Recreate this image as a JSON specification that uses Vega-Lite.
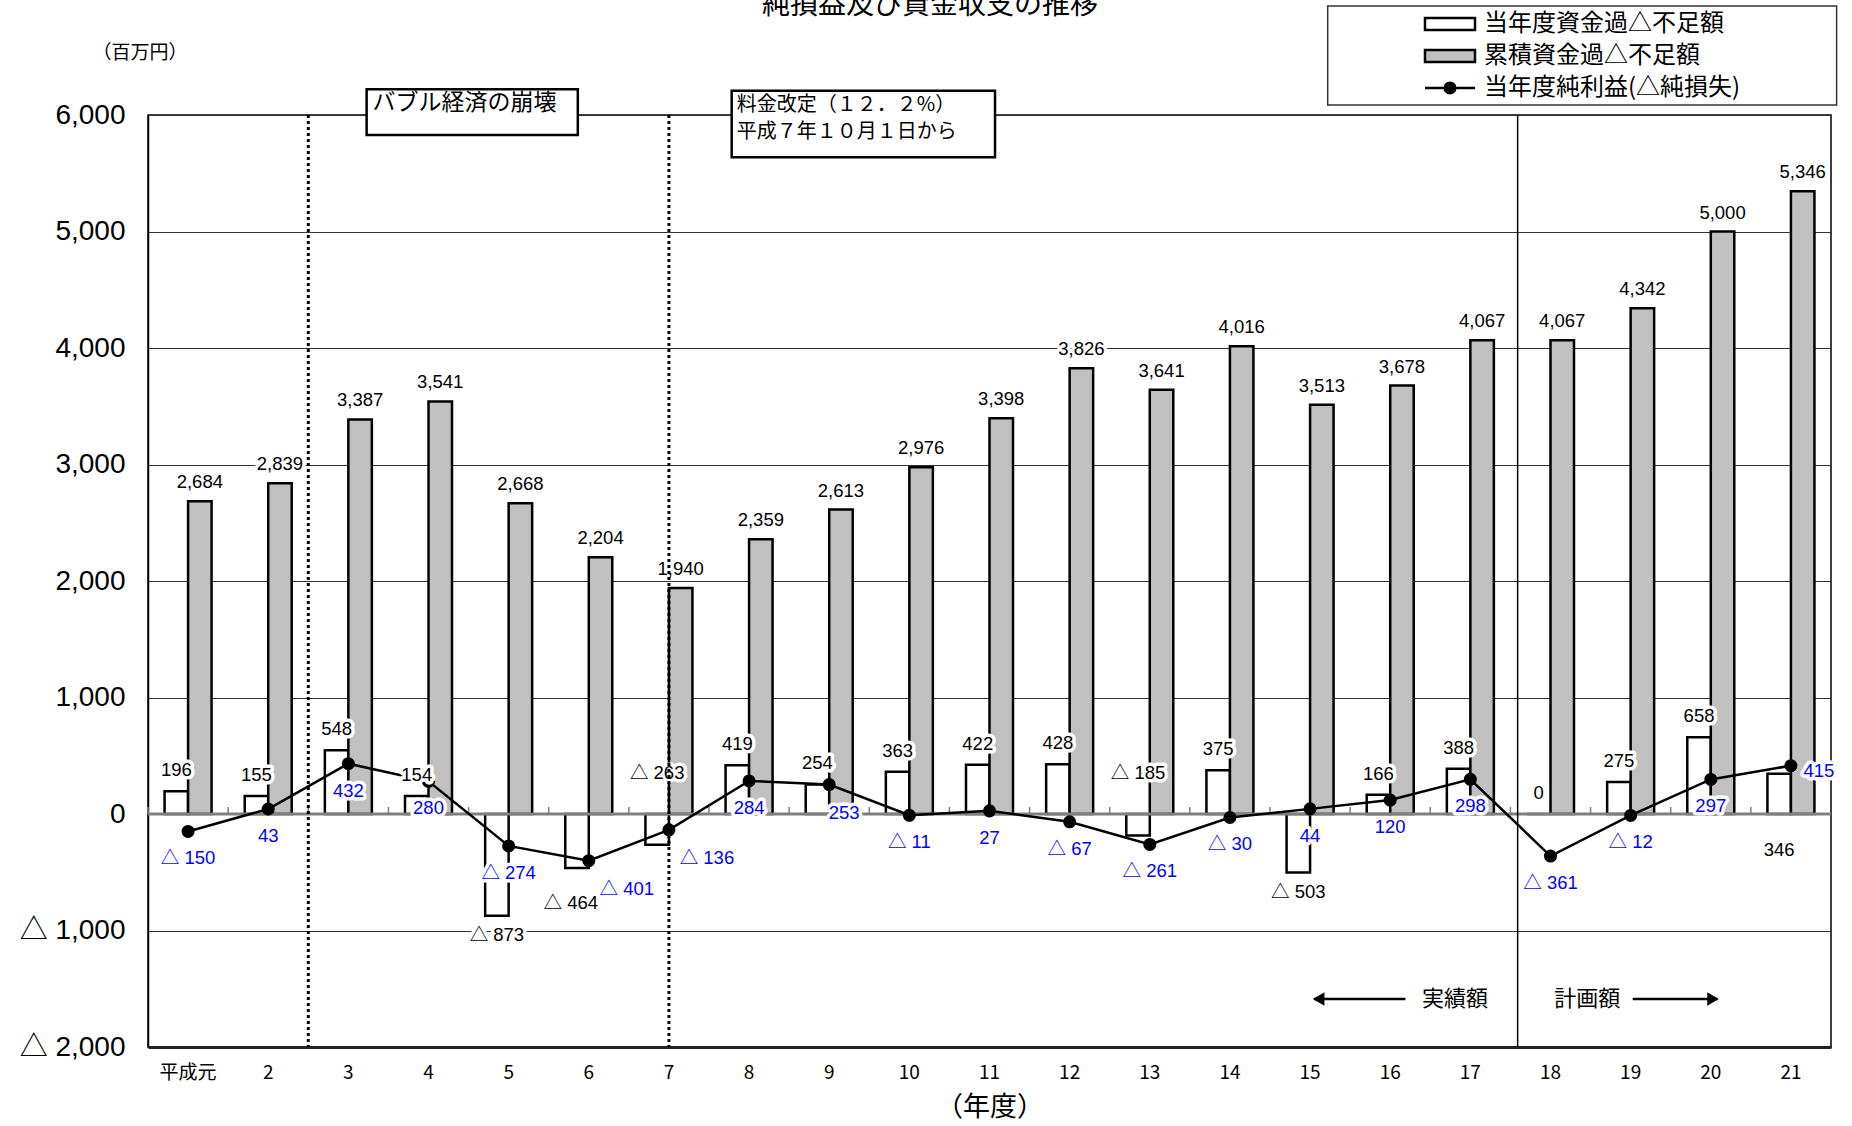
{
  "$schema": "https://vega.github.io/schema/vega-lite/v6.json",
  "width": 1683,
  "height": 932,
  "autosize": {"type": "none"},
  "padding": {"left": 148, "top": 115, "right": 21, "bottom": 79},
  "background": "white",
  "config": {
    "view": {"stroke": "black", "strokeWidth": 1.5}
  },
  "datasets": {
    "fy": [
      {"year": "平成元", "annual": 196, "cumulative": 2684, "net": -150},
      {"year": "2", "annual": 155, "cumulative": 2839, "net": 43},
      {"year": "3", "annual": 548, "cumulative": 3387, "net": 432},
      {"year": "4", "annual": 154, "cumulative": 3541, "net": 280},
      {"year": "5", "annual": -873, "cumulative": 2668, "net": -274},
      {"year": "6", "annual": -464, "cumulative": 2204, "net": -401},
      {"year": "7", "annual": -263, "cumulative": 1940, "net": -136},
      {"year": "8", "annual": 419, "cumulative": 2359, "net": 284},
      {"year": "9", "annual": 254, "cumulative": 2613, "net": 253},
      {"year": "10", "annual": 363, "cumulative": 2976, "net": -11},
      {"year": "11", "annual": 422, "cumulative": 3398, "net": 27},
      {"year": "12", "annual": 428, "cumulative": 3826, "net": -67},
      {"year": "13", "annual": -185, "cumulative": 3641, "net": -261},
      {"year": "14", "annual": 375, "cumulative": 4016, "net": -30},
      {"year": "15", "annual": -503, "cumulative": 3513, "net": 44},
      {"year": "16", "annual": 166, "cumulative": 3678, "net": 120},
      {"year": "17", "annual": 388, "cumulative": 4067, "net": 298},
      {"year": "18", "annual": 0, "cumulative": 4067, "net": -361},
      {"year": "19", "annual": 275, "cumulative": 4342, "net": -12},
      {"year": "20", "annual": 658, "cumulative": 5000, "net": 297},
      {"year": "21", "annual": 346, "cumulative": 5346, "net": 415}
    ]
  },
  "data": {"name": "fy"},
  "resolve": {"scale": {"x": "independent"}, "axis": {"y": "independent"}},
  "layer": [
    {
      "mark": {"type": "bar", "width": 23.5, "xOffset": -11.75, "fill": "white", "stroke": "black", "strokeWidth": 2.5},
      "encoding": {
        "x": {
          "field": "year", "type": "ordinal", "sort": null, "title": "（年度）",
          "scale": {"domain": ["平成元", "2", "3", "4", "5", "6", "7", "8", "9", "10", "11", "12", "13", "14", "15", "16", "17", "18", "19", "20", "21"], "paddingInner": 0, "paddingOuter": 0},
          "axis": {
            "labelAngle": 0, "ticks": false, "labelPadding": 16, "grid": false,
            "labelFont": "Noto Sans CJK JP", "labelFontSize": 19, "labelColor": "black",
            "domainColor": "#222", "domainWidth": 3,
            "titleFont": "Noto Sans CJK JP", "titleFontSize": 27, "titleFontWeight": "normal",
            "titleColor": "black", "titlePadding": 12
          }
        },
        "y": {
          "field": "annual", "type": "quantitative", "title": "（百万円）",
          "scale": {"domain": [-2000, 6000], "nice": false, "zero": false},
          "axis": {
            "values": [-2000, -1000, 0, 1000, 2000, 3000, 4000, 5000, 6000],
            "labelExpr": "datum.value < 0 ? '△ ' + format(-datum.value, ',') : format(datum.value, ',')",
            "grid": true, "gridColor": "#333", "gridWidth": 1,
            "ticks": false, "labelPadding": 23,
            "labelFont": "Liberation Sans, Noto Sans CJK JP", "labelFontSize": 28, "labelColor": "black",
            "domainColor": "black", "domainWidth": 1.5,
            "titleAngle": 0, "titleAlign": "left", "titleBaseline": "middle",
            "titleX": -56, "titleY": -63,
            "titleFont": "Noto Sans CJK JP", "titleFontSize": 19, "titleFontWeight": "normal", "titleColor": "black"
          }
        }
      }
    },
    {
      "mark": {"type": "bar", "width": 23.5, "xOffset": 11.75, "fill": "#c0c0c0", "stroke": "black", "strokeWidth": 2.5},
      "encoding": {
        "x": {"field": "year", "type": "ordinal", "sort": null, "scale": {"domain": ["平成元", "2", "3", "4", "5", "6", "7", "8", "9", "10", "11", "12", "13", "14", "15", "16", "17", "18", "19", "20", "21"], "paddingInner": 0, "paddingOuter": 0}, "axis": null},
        "y": {"field": "cumulative", "type": "quantitative", "axis": null}
      }
    },
    {
      "mark": {"type": "rule", "color": "#808080", "strokeWidth": 3},
      "encoding": {
        "x": {"field": "year", "type": "ordinal", "sort": null, "scale": {"domain": ["平成元", "2", "3", "4", "5", "6", "7", "8", "9", "10", "11", "12", "13", "14", "15", "16", "17", "18", "19", "20", "21"], "paddingInner": 0, "paddingOuter": 0}, "bandPosition": 0, "axis": null},
        "x2": {"field": "year", "bandPosition": 1},
        "y": {"datum": 0, "type": "quantitative", "axis": null}
      }
    },
    {
      "mark": {"type": "rule", "color": "#808080", "strokeWidth": 1.5},
      "encoding": {
        "x": {"field": "year", "type": "ordinal", "sort": null, "scale": {"domain": ["平成元", "2", "3", "4", "5", "6", "7", "8", "9", "10", "11", "12", "13", "14", "15", "16", "17", "18", "19", "20", "21"], "paddingInner": 0, "paddingOuter": 0}, "bandPosition": 0, "axis": null},
        "y": {"datum": 0, "type": "quantitative", "axis": null},
        "y2": {"datum": 60}
      }
    },
    {
      "mark": {"type": "line", "color": "black", "strokeWidth": 2.5, "point": {"filled": true, "size": 170, "color": "black"}},
      "encoding": {
        "x": {"field": "year", "type": "ordinal", "sort": null, "scale": {"domain": ["平成元", "2", "3", "4", "5", "6", "7", "8", "9", "10", "11", "12", "13", "14", "15", "16", "17", "18", "19", "20", "21"], "paddingInner": 0, "paddingOuter": 0}, "axis": null},
        "y": {"field": "net", "type": "quantitative", "axis": null}
      }
    },
    {
      "encoding": {
        "x": {"field": "year", "type": "ordinal", "sort": null, "scale": {"domain": ["平成元", "2", "3", "4", "5", "6", "7", "8", "9", "10", "11", "12", "13", "14", "15", "16", "17", "18", "19", "20", "21"], "paddingInner": 0, "paddingOuter": 0}, "axis": null},
        "y": {"field": "cumulative", "type": "quantitative", "axis": null}
      },
      "layer": [
        {"mark": {"type": "text", "text": {"expr": "format(datum.cumulative, ',')"}, "dx": 11.75, "dy": -19, "baseline": "middle", "font": "Liberation Sans, Noto Sans CJK JP", "fontSize": 18.5, "fill": "white", "stroke": "white", "strokeWidth": 7, "strokeJoin": "round"}},
        {"mark": {"type": "text", "text": {"expr": "format(datum.cumulative, ',')"}, "dx": 11.75, "dy": -19, "baseline": "middle", "font": "Liberation Sans, Noto Sans CJK JP", "fontSize": 18.5, "fill": "black"}}
      ]
    },
    {
      "transform": [{"filter": "datum.annual >= 0 && datum.year !== '21'"}],
      "encoding": {
        "x": {"field": "year", "type": "ordinal", "sort": null, "scale": {"domain": ["平成元", "2", "3", "4", "5", "6", "7", "8", "9", "10", "11", "12", "13", "14", "15", "16", "17", "18", "19", "20", "21"], "paddingInner": 0, "paddingOuter": 0}, "axis": null},
        "y": {"field": "annual", "type": "quantitative", "axis": null}
      },
      "layer": [
        {"mark": {"type": "text", "text": {"expr": "format(datum.annual, ',')"}, "dx": -11.75, "dy": -21, "baseline": "middle", "font": "Liberation Sans, Noto Sans CJK JP", "fontSize": 18.5, "fill": "white", "stroke": "white", "strokeWidth": 7, "strokeJoin": "round"}},
        {"mark": {"type": "text", "text": {"expr": "format(datum.annual, ',')"}, "dx": -11.75, "dy": -21, "baseline": "middle", "font": "Liberation Sans, Noto Sans CJK JP", "fontSize": 18.5, "fill": "black"}}
      ]
    },
    {
      "transform": [{"filter": "datum.annual < 0 && datum.year !== '6' && datum.year !== '7' && datum.year !== '13'"}],
      "encoding": {
        "x": {"field": "year", "type": "ordinal", "sort": null, "scale": {"domain": ["平成元", "2", "3", "4", "5", "6", "7", "8", "9", "10", "11", "12", "13", "14", "15", "16", "17", "18", "19", "20", "21"], "paddingInner": 0, "paddingOuter": 0}, "axis": null},
        "y": {"field": "annual", "type": "quantitative", "axis": null}
      },
      "layer": [
        {"mark": {"type": "text", "text": {"expr": "'△ ' + format(-datum.annual, ',')"}, "dx": -11.75, "dy": 19, "baseline": "middle", "font": "Liberation Sans, Noto Sans CJK JP", "fontSize": 18.5, "fill": "white", "stroke": "white", "strokeWidth": 7, "strokeJoin": "round"}},
        {"mark": {"type": "text", "text": {"expr": "'△ ' + format(-datum.annual, ',')"}, "dx": -11.75, "dy": 19, "baseline": "middle", "font": "Liberation Sans, Noto Sans CJK JP", "fontSize": 18.5, "fill": "black"}}
      ]
    },
    {
      "transform": [{"filter": {"field": "year", "equal": "6"}}],
      "encoding": {
        "x": {"field": "year", "type": "ordinal", "sort": null, "scale": {"domain": ["平成元", "2", "3", "4", "5", "6", "7", "8", "9", "10", "11", "12", "13", "14", "15", "16", "17", "18", "19", "20", "21"], "paddingInner": 0, "paddingOuter": 0}, "axis": null},
        "y": {"field": "annual", "type": "quantitative", "axis": null}
      },
      "layer": [
        {"mark": {"type": "text", "text": {"expr": "'△ ' + format(-datum.annual, ',')"}, "dx": -18, "dy": 35, "baseline": "middle", "font": "Liberation Sans, Noto Sans CJK JP", "fontSize": 18.5, "fill": "white", "stroke": "white", "strokeWidth": 7, "strokeJoin": "round"}},
        {"mark": {"type": "text", "text": {"expr": "'△ ' + format(-datum.annual, ',')"}, "dx": -18, "dy": 35, "baseline": "middle", "font": "Liberation Sans, Noto Sans CJK JP", "fontSize": 18.5, "fill": "black"}}
      ]
    },
    {
      "transform": [{"filter": {"field": "year", "oneOf": ["7", "13"]}}],
      "encoding": {
        "x": {"field": "year", "type": "ordinal", "sort": null, "scale": {"domain": ["平成元", "2", "3", "4", "5", "6", "7", "8", "9", "10", "11", "12", "13", "14", "15", "16", "17", "18", "19", "20", "21"], "paddingInner": 0, "paddingOuter": 0}, "axis": null},
        "y": {"datum": 0, "type": "quantitative", "axis": null}
      },
      "layer": [
        {"mark": {"type": "text", "text": {"expr": "'△ ' + format(-datum.annual, ',')"}, "dx": -11.75, "dy": -41, "baseline": "middle", "font": "Liberation Sans, Noto Sans CJK JP", "fontSize": 18.5, "fill": "white", "stroke": "white", "strokeWidth": 7, "strokeJoin": "round"}},
        {"mark": {"type": "text", "text": {"expr": "'△ ' + format(-datum.annual, ',')"}, "dx": -11.75, "dy": -41, "baseline": "middle", "font": "Liberation Sans, Noto Sans CJK JP", "fontSize": 18.5, "fill": "black"}}
      ]
    },
    {
      "transform": [{"filter": {"field": "year", "equal": "21"}}],
      "mark": {"type": "text", "text": {"expr": "format(datum.annual, ',')"}, "dx": -11.75, "dy": 36, "baseline": "middle", "font": "Liberation Sans, Noto Sans CJK JP", "fontSize": 18.5, "fill": "black"},
      "encoding": {
        "x": {"field": "year", "type": "ordinal", "sort": null, "scale": {"domain": ["平成元", "2", "3", "4", "5", "6", "7", "8", "9", "10", "11", "12", "13", "14", "15", "16", "17", "18", "19", "20", "21"], "paddingInner": 0, "paddingOuter": 0}, "axis": null},
        "y": {"datum": 0, "type": "quantitative", "axis": null}
      }
    },
    {
      "transform": [{"filter": "datum.year !== '6' && datum.year !== '7' && datum.year !== '9' && datum.year !== '21'"}],
      "encoding": {
        "x": {"field": "year", "type": "ordinal", "sort": null, "scale": {"domain": ["平成元", "2", "3", "4", "5", "6", "7", "8", "9", "10", "11", "12", "13", "14", "15", "16", "17", "18", "19", "20", "21"], "paddingInner": 0, "paddingOuter": 0}, "axis": null},
        "y": {"field": "net", "type": "quantitative", "axis": null}
      },
      "layer": [
        {"mark": {"type": "text", "text": {"expr": "datum.net < 0 ? '△ ' + format(-datum.net, ',') : format(datum.net, ',')"}, "dy": 27, "baseline": "middle", "font": "Liberation Sans, Noto Sans CJK JP", "fontSize": 18.5, "fill": "white", "stroke": "white", "strokeWidth": 7, "strokeJoin": "round"}},
        {"mark": {"type": "text", "text": {"expr": "datum.net < 0 ? '△ ' + format(-datum.net, ',') : format(datum.net, ',')"}, "dy": 27, "baseline": "middle", "font": "Liberation Sans, Noto Sans CJK JP", "fontSize": 18.5, "fill": "#0000ff"}}
      ]
    },
    {
      "transform": [{"filter": {"field": "year", "oneOf": ["6", "7"]}}],
      "encoding": {
        "x": {"field": "year", "type": "ordinal", "sort": null, "scale": {"domain": ["平成元", "2", "3", "4", "5", "6", "7", "8", "9", "10", "11", "12", "13", "14", "15", "16", "17", "18", "19", "20", "21"], "paddingInner": 0, "paddingOuter": 0}, "axis": null},
        "y": {"field": "net", "type": "quantitative", "axis": null}
      },
      "layer": [
        {"mark": {"type": "text", "text": {"expr": "'△ ' + format(-datum.net, ',')"}, "dx": 38, "dy": 28, "baseline": "middle", "font": "Liberation Sans, Noto Sans CJK JP", "fontSize": 18.5, "fill": "white", "stroke": "white", "strokeWidth": 7, "strokeJoin": "round"}},
        {"mark": {"type": "text", "text": {"expr": "'△ ' + format(-datum.net, ',')"}, "dx": 38, "dy": 28, "baseline": "middle", "font": "Liberation Sans, Noto Sans CJK JP", "fontSize": 18.5, "fill": "#0000ff"}}
      ]
    },
    {
      "transform": [{"filter": {"field": "year", "equal": "9"}}],
      "encoding": {
        "x": {"field": "year", "type": "ordinal", "sort": null, "scale": {"domain": ["平成元", "2", "3", "4", "5", "6", "7", "8", "9", "10", "11", "12", "13", "14", "15", "16", "17", "18", "19", "20", "21"], "paddingInner": 0, "paddingOuter": 0}, "axis": null},
        "y": {"field": "net", "type": "quantitative", "axis": null}
      },
      "layer": [
        {"mark": {"type": "text", "text": {"expr": "format(datum.net, ',')"}, "dx": 15, "dy": 28, "baseline": "middle", "font": "Liberation Sans, Noto Sans CJK JP", "fontSize": 18.5, "fill": "white", "stroke": "white", "strokeWidth": 7, "strokeJoin": "round"}},
        {"mark": {"type": "text", "text": {"expr": "format(datum.net, ',')"}, "dx": 15, "dy": 28, "baseline": "middle", "font": "Liberation Sans, Noto Sans CJK JP", "fontSize": 18.5, "fill": "#0000ff"}}
      ]
    },
    {
      "transform": [{"filter": {"field": "year", "equal": "21"}}],
      "encoding": {
        "x": {"field": "year", "type": "ordinal", "sort": null, "scale": {"domain": ["平成元", "2", "3", "4", "5", "6", "7", "8", "9", "10", "11", "12", "13", "14", "15", "16", "17", "18", "19", "20", "21"], "paddingInner": 0, "paddingOuter": 0}, "axis": null},
        "y": {"field": "net", "type": "quantitative", "axis": null}
      },
      "layer": [
        {"mark": {"type": "text", "text": {"expr": "format(datum.net, ',')"}, "dx": 28, "dy": 5, "baseline": "middle", "font": "Liberation Sans, Noto Sans CJK JP", "fontSize": 18.5, "fill": "white", "stroke": "white", "strokeWidth": 7, "strokeJoin": "round"}},
        {"mark": {"type": "text", "text": {"expr": "format(datum.net, ',')"}, "dx": 28, "dy": 5, "baseline": "middle", "font": "Liberation Sans, Noto Sans CJK JP", "fontSize": 18.5, "fill": "#0000ff"}}
      ]
    },
    {
      "data": {"values": [{"year": "3", "event": "バブル経済の崩壊"}]},
      "mark": {"type": "rule", "color": "black", "strokeWidth": 3, "strokeDash": [3, 3]},
      "encoding": {"x": {"field": "year", "type": "ordinal", "sort": null, "scale": {"domain": ["平成元", "2", "3", "4", "5", "6", "7", "8", "9", "10", "11", "12", "13", "14", "15", "16", "17", "18", "19", "20", "21"], "paddingInner": 0, "paddingOuter": 0}, "bandPosition": 0, "axis": null}}
    },
    {
      "data": {"values": [{"year": "7", "event": "料金改定"}]},
      "mark": {"type": "rule", "color": "black", "strokeWidth": 3, "strokeDash": [3, 3]},
      "encoding": {"x": {"field": "year", "type": "ordinal", "sort": null, "scale": {"domain": ["平成元", "2", "3", "4", "5", "6", "7", "8", "9", "10", "11", "12", "13", "14", "15", "16", "17", "18", "19", "20", "21"], "paddingInner": 0, "paddingOuter": 0}, "bandPosition": 0.5, "axis": null}}
    },
    {
      "data": {"values": [{"year": "18", "event": "計画額"}]},
      "mark": {"type": "rule", "color": "black", "strokeWidth": 1.5},
      "encoding": {"x": {"field": "year", "type": "ordinal", "sort": null, "scale": {"domain": ["平成元", "2", "3", "4", "5", "6", "7", "8", "9", "10", "11", "12", "13", "14", "15", "16", "17", "18", "19", "20", "21"], "paddingInner": 0, "paddingOuter": 0}, "bandPosition": 0.09, "axis": null}}
    },
    {
      "data": {"values": [{"label": "純損益及び資金収支の推移"}]},
      "mark": {"type": "text", "align": "center", "baseline": "alphabetic", "font": "Noto Sans CJK JP", "fontSize": 28, "color": "black"},
      "encoding": {
        "x": {"datum": 9.758, "type": "quantitative", "scale": {"domain": [0, 21], "nice": false, "zero": false}, "axis": null},
        "y": {"datum": 6867, "type": "quantitative", "axis": null},
        "text": {"field": "label"}
      }
    },
    {
      "data": {"values": [{"label": "バブル経済の崩壊"}]},
      "encoding": {
        "x": {"datum": 2.728, "type": "quantitative", "scale": {"domain": [0, 21], "nice": false, "zero": false}, "axis": null},
        "y": {"datum": 6221, "type": "quantitative", "axis": null}
      },
      "layer": [
        {
          "mark": {"type": "rect", "fill": "white", "stroke": "black", "strokeWidth": 2.5},
          "encoding": {"x2": {"datum": 5.363}, "y2": {"datum": 5828}}
        },
        {
          "mark": {"type": "text", "align": "left", "baseline": "middle", "font": "Noto Sans CJK JP", "fontSize": 23, "color": "black"},
          "encoding": {
            "x": {"datum": 2.80, "type": "quantitative", "axis": null},
            "y": {"datum": 6103, "type": "quantitative", "axis": null},
            "text": {"field": "label"}
          }
        }
      ]
    },
    {
      "data": {"values": [{"label": "料金改定（１２．２%）\n平成７年１０月１日から"}]},
      "encoding": {
        "x": {"datum": 7.283, "type": "quantitative", "scale": {"domain": [0, 21], "nice": false, "zero": false}, "axis": null},
        "y": {"datum": 6209, "type": "quantitative", "axis": null}
      },
      "layer": [
        {
          "mark": {"type": "rect", "fill": "white", "stroke": "black", "strokeWidth": 2.5},
          "encoding": {"x2": {"datum": 10.569}, "y2": {"datum": 5637}}
        },
        {
          "mark": {"type": "text", "align": "left", "baseline": "middle", "lineBreak": "\n", "lineHeight": 27, "font": "Noto Sans CJK JP", "fontSize": 20, "color": "black"},
          "encoding": {
            "x": {"datum": 7.346, "type": "quantitative", "axis": null},
            "y": {"datum": 6086, "type": "quantitative", "axis": null},
            "text": {"field": "label"}
          }
        }
      ]
    },
    {
      "data": {"values": [{"label": "当年度資金過△不足額"}]},
      "layer": [
        {
          "mark": {"type": "rect", "fill": "white", "stroke": "#333", "strokeWidth": 1.5},
          "encoding": {
            "x": {"datum": 14.72, "type": "quantitative", "scale": {"domain": [0, 21], "nice": false, "zero": false}, "axis": null},
            "x2": {"datum": 21.07},
            "y": {"datum": 6936, "type": "quantitative", "axis": null},
            "y2": {"datum": 6086}
          }
        },
        {
          "mark": {"type": "rect", "fill": "white", "stroke": "black", "strokeWidth": 2.5},
          "encoding": {
            "x": {"datum": 15.934, "type": "quantitative", "axis": null},
            "x2": {"datum": 16.558},
            "y": {"datum": 6832, "type": "quantitative", "axis": null},
            "y2": {"datum": 6730}
          }
        },
        {
          "mark": {"type": "text", "align": "left", "baseline": "middle", "font": "Noto Sans CJK JP", "fontSize": 24, "color": "black"},
          "encoding": {
            "x": {"datum": 16.67, "type": "quantitative", "axis": null},
            "y": {"datum": 6781, "type": "quantitative", "axis": null},
            "text": {"field": "label"}
          }
        }
      ]
    },
    {
      "data": {"values": [{"label": "累積資金過△不足額"}]},
      "layer": [
        {
          "mark": {"type": "rect", "fill": "#c0c0c0", "stroke": "black", "strokeWidth": 2.5},
          "encoding": {
            "x": {"datum": 15.934, "type": "quantitative", "scale": {"domain": [0, 21], "nice": false, "zero": false}, "axis": null},
            "x2": {"datum": 16.558},
            "y": {"datum": 6557, "type": "quantitative", "axis": null},
            "y2": {"datum": 6455}
          }
        },
        {
          "mark": {"type": "text", "align": "left", "baseline": "middle", "font": "Noto Sans CJK JP", "fontSize": 24, "color": "black"},
          "encoding": {
            "x": {"datum": 16.67, "type": "quantitative", "axis": null},
            "y": {"datum": 6506, "type": "quantitative", "axis": null},
            "text": {"field": "label"}
          }
        }
      ]
    },
    {
      "data": {"values": [{"label": "当年度純利益(△純損失)"}]},
      "layer": [
        {
          "mark": {"type": "rule", "color": "black", "strokeWidth": 2.5},
          "encoding": {
            "x": {"datum": 15.934, "type": "quantitative", "scale": {"domain": [0, 21], "nice": false, "zero": false}, "axis": null},
            "x2": {"datum": 16.558},
            "y": {"datum": 6232, "type": "quantitative", "axis": null}
          }
        },
        {
          "mark": {"type": "point", "filled": true, "size": 170, "color": "black", "opacity": 1},
          "encoding": {
            "x": {"datum": 16.246, "type": "quantitative", "axis": null},
            "y": {"datum": 6232, "type": "quantitative", "axis": null}
          }
        },
        {
          "mark": {"type": "text", "align": "left", "baseline": "middle", "font": "Noto Sans CJK JP", "fontSize": 24, "color": "black"},
          "encoding": {
            "x": {"datum": 16.67, "type": "quantitative", "axis": null},
            "y": {"datum": 6232, "type": "quantitative", "axis": null},
            "text": {"field": "label"}
          }
        }
      ]
    },
    {
      "data": {"values": [{"label": "実績額"}, {"label": "計画額"}]},
      "layer": [
        {
          "transform": [{"filter": {"field": "label", "equal": "実績額"}}],
          "mark": {"type": "rule", "color": "black", "strokeWidth": 2.5},
          "encoding": {
            "x": {"datum": 14.55, "type": "quantitative", "scale": {"domain": [0, 21], "nice": false, "zero": false}, "axis": null},
            "x2": {"datum": 15.69},
            "y": {"datum": -1588, "type": "quantitative", "axis": null}
          }
        },
        {
          "transform": [{"filter": {"field": "label", "equal": "実績額"}}],
          "mark": {"type": "point", "shape": "triangle-left", "filled": true, "size": 180, "color": "black", "opacity": 1},
          "encoding": {
            "x": {"datum": 14.607, "type": "quantitative", "axis": null},
            "y": {"datum": -1588, "type": "quantitative", "axis": null}
          }
        },
        {
          "transform": [{"filter": {"field": "label", "equal": "実績額"}}],
          "mark": {"type": "text", "align": "center", "baseline": "middle", "font": "Noto Sans CJK JP", "fontSize": 22, "color": "black"},
          "encoding": {
            "x": {"datum": 16.308, "type": "quantitative", "axis": null},
            "y": {"datum": -1588, "type": "quantitative", "axis": null},
            "text": {"field": "label"}
          }
        },
        {
          "transform": [{"filter": {"field": "label", "equal": "計画額"}}],
          "mark": {"type": "rule", "color": "black", "strokeWidth": 2.5},
          "encoding": {
            "x": {"datum": 18.526, "type": "quantitative", "axis": null},
            "x2": {"datum": 19.58},
            "y": {"datum": -1588, "type": "quantitative", "axis": null}
          }
        },
        {
          "transform": [{"filter": {"field": "label", "equal": "計画額"}}],
          "mark": {"type": "point", "shape": "triangle-right", "filled": true, "size": 180, "color": "black", "opacity": 1},
          "encoding": {
            "x": {"datum": 19.528, "type": "quantitative", "axis": null},
            "y": {"datum": -1588, "type": "quantitative", "axis": null}
          }
        },
        {
          "transform": [{"filter": {"field": "label", "equal": "計画額"}}],
          "mark": {"type": "text", "align": "center", "baseline": "middle", "font": "Noto Sans CJK JP", "fontSize": 22, "color": "black"},
          "encoding": {
            "x": {"datum": 17.96, "type": "quantitative", "axis": null},
            "y": {"datum": -1588, "type": "quantitative", "axis": null},
            "text": {"field": "label"}
          }
        }
      ]
    }
  ]
}
